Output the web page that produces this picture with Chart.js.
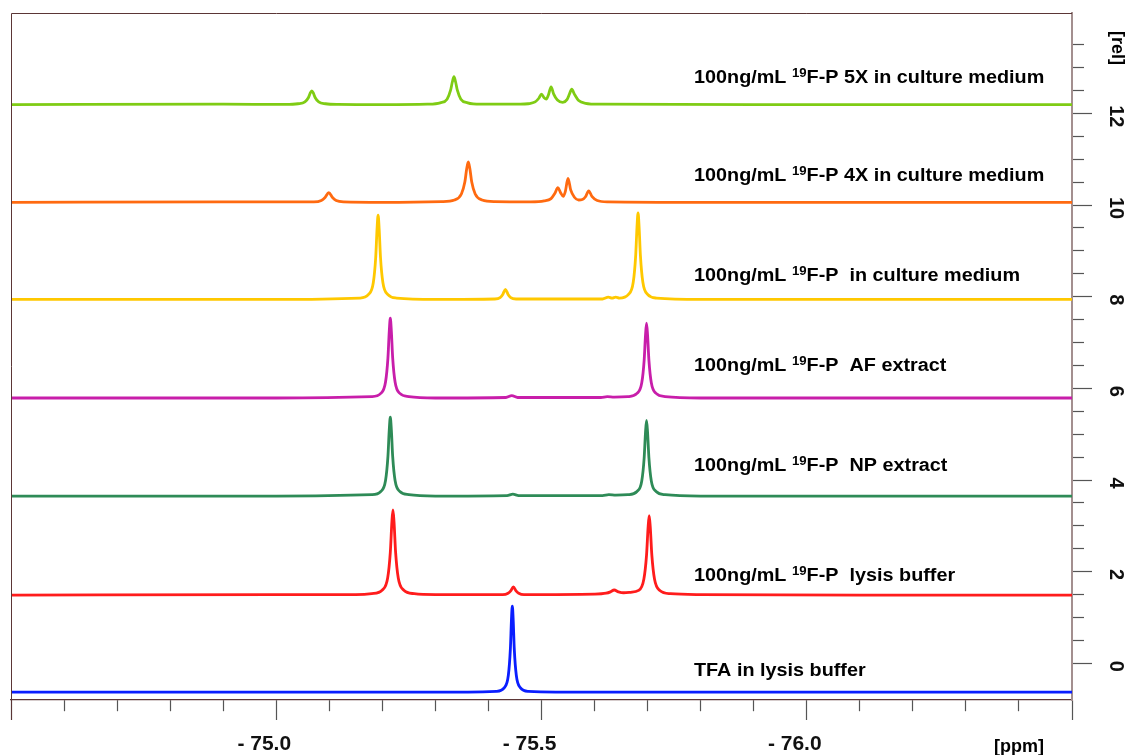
<!DOCTYPE html>
<html>
<head>
<meta charset="utf-8">
<title>19F NMR spectra</title>
<script src="https://cdn.jsdelivr.net/npm/chart.js@4.4.1/dist/chart.umd.min.js"></script>
<style>
    html, body { margin: 0; padding: 0; background: #fff; }
    #wrap { position: relative; width: 1127px; height: 755px; }
</style>
</head>
<body>
<div id="wrap"><canvas id="spectra"></canvas></div>
<script>
// Stacked 19F spectra: [ppm, rel] points, each trace sits on its own offset baseline
const tfaLysis = [
    [-74.50, -0.63], [-75.30, -0.63], [-75.415, -0.61], [-75.430, -0.53], [-75.4375, -0.26],
    [-75.4413, 0.31], [-75.4435, 0.99], [-75.445, 1.25], [-75.4465, 0.99], [-75.4487, 0.31],
    [-75.4525, -0.26], [-75.460, -0.53], [-75.475, -0.61], [-75.60, -0.63], [-76.50, -0.63]
];
const fpLysis = [
    [-74.50, 1.49], [-75.00, 1.50], [-75.150, 1.50], [-75.180, 1.52], [-75.200, 1.60], [-75.210, 1.86],
    [-75.215, 2.42], [-75.218, 3.09], [-75.220, 3.35], [-75.222, 3.09], [-75.225, 2.42], [-75.230, 1.86],
    [-75.240, 1.60], [-75.260, 1.52], [-75.300, 1.50], [-75.427, 1.50], [-75.437, 1.53], [-75.442, 1.58],
    [-75.447, 1.67], [-75.452, 1.58], [-75.457, 1.53], [-75.467, 1.50], [-75.600, 1.51], [-75.622, 1.53],
    [-75.630, 1.56], [-75.637, 1.60], [-75.645, 1.56], [-75.655, 1.54], [-75.668, 1.55], [-75.683, 1.59],
    [-75.693, 1.84], [-75.698, 2.36], [-75.701, 2.98], [-75.703, 3.22], [-75.705, 2.98], [-75.708, 2.36],
    [-75.713, 1.84], [-75.723, 1.59], [-75.743, 1.52], [-75.800, 1.50], [-76.10, 1.49], [-76.50, 1.49]
];
const fpNp = [
    [-74.50, 3.65], [-75.00, 3.65], [-75.180, 3.68], [-75.197, 3.75], [-75.206, 3.99], [-75.2105, 4.51],
    [-75.213, 5.09], [-75.215, 5.37], [-75.217, 5.09], [-75.2195, 4.51], [-75.224, 3.99], [-75.233, 3.75],
    [-75.250, 3.68], [-75.300, 3.65], [-75.435, 3.66], [-75.446, 3.69], [-75.457, 3.66], [-75.615, 3.66],
    [-75.627, 3.68], [-75.640, 3.67], [-75.663, 3.68], [-75.680, 3.75], [-75.689, 3.98], [-75.6935, 4.48],
    [-75.696, 5.03], [-75.698, 5.30], [-75.700, 5.03], [-75.7025, 4.48], [-75.707, 3.98], [-75.716, 3.75],
    [-75.733, 3.68], [-75.800, 3.65], [-76.50, 3.65]
];
const fpAf = [
    [-74.50, 5.79], [-75.00, 5.79], [-75.180, 5.82], [-75.197, 5.89], [-75.206, 6.14], [-75.2105, 6.66],
    [-75.213, 7.24], [-75.215, 7.53], [-75.217, 7.24], [-75.2195, 6.66], [-75.224, 6.14], [-75.233, 5.89],
    [-75.250, 5.82], [-75.300, 5.79], [-75.433, 5.80], [-75.444, 5.84], [-75.455, 5.80], [-75.612, 5.80],
    [-75.624, 5.82], [-75.637, 5.81], [-75.663, 5.82], [-75.680, 5.89], [-75.689, 6.12], [-75.6935, 6.61],
    [-75.696, 7.15], [-75.698, 7.42], [-75.700, 7.15], [-75.7025, 6.61], [-75.707, 6.12], [-75.716, 5.89],
    [-75.733, 5.82], [-75.800, 5.79], [-76.50, 5.79]
];
const fpMedium = [
    [-74.50, 7.94], [-75.00, 7.94], [-75.157, 7.97], [-75.174, 8.05], [-75.183, 8.31], [-75.1875, 8.86],
    [-75.190, 9.48], [-75.192, 9.78], [-75.194, 9.48], [-75.1965, 8.86], [-75.201, 8.31], [-75.210, 8.05],
    [-75.227, 7.97], [-75.300, 7.94], [-75.412, 7.95], [-75.422, 7.98], [-75.427, 8.05], [-75.432, 8.16],
    [-75.437, 8.05], [-75.442, 7.98], [-75.452, 7.95], [-75.615, 7.95], [-75.626, 7.99], [-75.633, 7.97],
    [-75.640, 7.99], [-75.647, 7.97], [-75.664, 8.05], [-75.673, 8.32], [-75.6775, 8.89], [-75.680, 9.52],
    [-75.682, 9.83], [-75.684, 9.52], [-75.6865, 8.89], [-75.691, 8.32], [-75.700, 8.05], [-75.717, 7.97],
    [-75.800, 7.94], [-76.50, 7.94]
];
const fp4x = [
    [-74.50, 10.06], [-74.90, 10.07], [-75.071, 10.07], [-75.085, 10.10], [-75.092, 10.165], [-75.099, 10.27],
    [-75.106, 10.165], [-75.113, 10.10], [-75.127, 10.07], [-75.200, 10.06], [-75.312, 10.075], [-75.336, 10.11],
    [-75.349, 10.24], [-75.3555, 10.50], [-75.359, 10.79], [-75.362, 10.94], [-75.365, 10.79], [-75.3685, 10.50],
    [-75.375, 10.24], [-75.388, 10.11], [-75.412, 10.075], [-75.480, 10.07], [-75.505, 10.09], [-75.518, 10.14],
    [-75.525, 10.25], [-75.531, 10.38], [-75.536, 10.27], [-75.541, 10.19], [-75.545, 10.30], [-75.550, 10.58],
    [-75.555, 10.33], [-75.562, 10.17], [-75.570, 10.11], [-75.577, 10.12], [-75.583, 10.18], [-75.589, 10.31],
    [-75.595, 10.19], [-75.605, 10.10], [-75.625, 10.07], [-75.800, 10.06], [-76.10, 10.06], [-76.50, 10.06]
];
const fp5x = [
    [-74.50, 12.19], [-74.90, 12.20], [-75.017, 12.195], [-75.041, 12.21], [-75.054, 12.25], [-75.0605, 12.34],
    [-75.064, 12.44], [-75.067, 12.49], [-75.070, 12.44], [-75.0735, 12.34], [-75.080, 12.25], [-75.093, 12.21],
    [-75.117, 12.195], [-75.200, 12.19], [-75.285, 12.20], [-75.309, 12.23], [-75.322, 12.31], [-75.3285, 12.50],
    [-75.332, 12.69], [-75.335, 12.80], [-75.338, 12.69], [-75.3415, 12.50], [-75.348, 12.31], [-75.361, 12.23],
    [-75.385, 12.20], [-75.460, 12.20], [-75.475, 12.21], [-75.488, 12.25], [-75.495, 12.33], [-75.500, 12.42],
    [-75.505, 12.34], [-75.509, 12.31], [-75.513, 12.40], [-75.518, 12.58], [-75.523, 12.42], [-75.530, 12.29],
    [-75.540, 12.24], [-75.548, 12.30], [-75.553, 12.43], [-75.557, 12.53], [-75.562, 12.42], [-75.570, 12.28],
    [-75.583, 12.22], [-75.610, 12.20], [-75.900, 12.19], [-76.50, 12.19]
];

// Labelled ticks on both axes
const ppmTickLabels = [-75.0, -75.5, -76.0];
const relTickLabels = [0, 2, 4, 6, 8, 10, 12];

// Trace captions, bottom to top: [prefix, superscript, rest]
const traceCaptions = [
    ['', '', 'TFA in lysis buffer'],
    ['100ng/mL ', '19', 'F-P  lysis buffer'],
    ['100ng/mL ', '19', 'F-P  NP extract'],
    ['100ng/mL ', '19', 'F-P  AF extract'],
    ['100ng/mL ', '19', 'F-P  in culture medium'],
    ['100ng/mL ', '19', 'F-P 4X in culture medium'],
    ['100ng/mL ', '19', 'F-P 5X in culture medium']
];

const FONT = '"Liberation Sans", Arial, sans-serif';

function isNear(a, b) {
    return Math.abs(a - b) < 1e-6;
}

// major ticks every 0.5 ppm / every 2 rel units
function isMajorPpm(v) {
    return isNear(v * 2, Math.round(v * 2));
}
function isMajorRel(v) {
    return isNear(v / 2, Math.round(v / 2));
}

const decorPlugin = {
    id: 'spectraDecor',
    afterDraw(chart) {
        const { ctx, chartArea: area } = chart;
        ctx.save();

        // frame on the top and left
        ctx.strokeStyle = '#5b3636';
        ctx.lineWidth = 1;
        ctx.beginPath();
        ctx.moveTo(area.left + 0.5, area.bottom + 20);
        ctx.lineTo(area.left + 0.5, area.top + 0.5);
        ctx.lineTo(area.right, area.top + 0.5);
        ctx.stroke();

        // captions next to each trace
        const captionX = 694;
        const captionBase = [676, 581, 471, 371, 281, 181, 83];
        ctx.fillStyle = '#000';
        ctx.textBaseline = 'alphabetic';
        ctx.textAlign = 'left';
        traceCaptions.forEach((parts, i) => {
            ctx.save();
            ctx.translate(captionX, captionBase[i]);
            ctx.scale(1.1, 1);
            let w = 0;
            ctx.font = 'bold 18px ' + FONT;
            ctx.fillText(parts[0], 0, 0);
            w += ctx.measureText(parts[0]).width;
            if (parts[1]) {
                ctx.font = 'bold 12px ' + FONT;
                ctx.fillText(parts[1], w, -6);
                w += ctx.measureText(parts[1]).width;
            }
            ctx.font = 'bold 18px ' + FONT;
            ctx.fillText(parts[2], w, 0);
            ctx.restore();
        });

        // axis units
        ctx.font = 'bold 18px ' + FONT;
        ctx.textAlign = 'center';
        ctx.textBaseline = 'alphabetic';
        ctx.fillText('[ppm]', 1019, 752);

        ctx.translate(1117, 48);
        ctx.rotate(Math.PI / 2);
        ctx.textBaseline = 'middle';
        ctx.fillText('[rel]', 0, 0);
        ctx.restore();
    }
};

const traceStyle = (label, data, color) => ({
    label: label,
    data: data,
    borderColor: color,
    borderWidth: 2.8,
    pointRadius: 0,
    cubicInterpolationMode: 'monotone',
    fill: false
});

new Chart(document.getElementById('spectra'), {
    type: 'line',
    data: {
        datasets: [
            traceStyle('TFA in lysis buffer', tfaLysis, '#0a1eff'),
            traceStyle('lysis buffer', fpLysis, '#ff1c1c'),
            traceStyle('NP extract', fpNp, '#2e8b57'),
            traceStyle('AF extract', fpAf, '#c81eaa'),
            traceStyle('in culture medium', fpMedium, '#ffc800'),
            traceStyle('4X in culture medium', fp4x, '#ff6a10'),
            traceStyle('5X in culture medium', fp5x, '#7fcc14')
        ]
    },
    options: {
        responsive: true,
        maintainAspectRatio: false,
        animation: false,
        devicePixelRatio: 1,
        layout: { padding: { left: 11, top: 13, right: 0, bottom: 0 } },
        plugins: { legend: { display: false }, tooltip: { enabled: false } },
        scales: {
            x: {
                type: 'linear',
                reverse: true,
                min: -76.5,
                max: -74.5,
                border: { color: '#5b3636', width: 1.2 },
                grid: {
                    drawOnChartArea: false,
                    tickLength: 20,
                    tickColor: '#555',
                    tickWidth: 1.2,
                    tickBorderDash: (c) => (c.tick && isMajorPpm(c.tick.value)) ? [] : [11, 40]
                },
                ticks: {
                    stepSize: 0.1,
                    autoSkip: false,
                    maxRotation: 0,
                    padding: 12,
                    labelOffset: -12,
                    color: '#111',
                    font: { family: FONT, size: 21, weight: 'bold' },
                    callback: (v) => ppmTickLabels.some(t => isNear(t, v)) ? '- ' + Math.abs(v).toFixed(1) : ''
                },
                afterFit: (scale) => {
                    scale.height = 55;
                    scale.paddingLeft = 0;
                    scale.paddingRight = 0;
                }
            },
            y: {
                type: 'linear',
                position: 'right',
                min: -0.8,
                max: 14.19,
                border: { color: '#a38f8f', width: 2 },
                grid: {
                    drawOnChartArea: false,
                    tickLength: 20,
                    tickColor: '#555',
                    tickWidth: 1.2,
                    tickBorderDash: (c) => (c.tick && isMajorRel(c.tick.value)) ? [] : [11, 40]
                },
                ticks: {
                    stepSize: 0.5,
                    autoSkip: false,
                    minRotation: -90,
                    crossAlign: 'center',
                    padding: 12,
                    labelOffset: 3,
                    color: '#111',
                    font: { family: FONT, size: 20, weight: 'bold' },
                    callback: (v) => relTickLabels.some(t => isNear(t, v)) ? String(v) : ''
                },
                afterBuildTicks: (scale) => {
                    // keep only the 0.5 grid, drop the bound ticks
                    scale.ticks = scale.ticks.filter(t => isNear(t.value * 2, Math.round(t.value * 2)));
                },
                afterFit: (scale) => {
                    scale.width = 55;
                    scale.paddingTop = 0;
                    scale.paddingBottom = 0;
                }
            }
        }
    },
    plugins: [decorPlugin]
});
</script>
</body>
</html>
